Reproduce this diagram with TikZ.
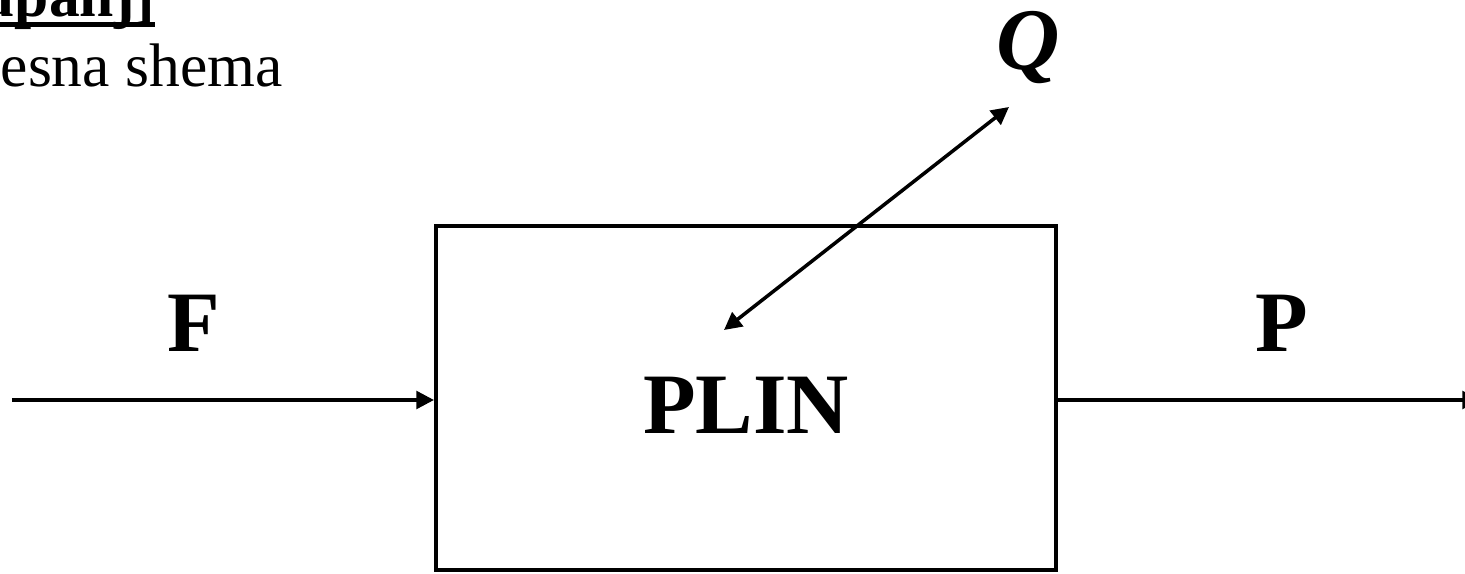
\documentclass[tikz,border=0pt]{standalone}
\usepackage{fontspec}
\setmainfont{Liberation Serif}
\usetikzlibrary{arrows.meta}

\newcommand{\thickul}[1]{\leavevmode\setbox0\hbox{#1}\rlap{\vrule height -1.4pt depth 2.8pt width \wd0}\box0}

\begin{document}
\begin{tikzpicture}[
    box/.style={
        rectangle,
        draw=black,
        line width=1.15pt,
        minimum width=6.2cm,
        minimum height=3.44cm,
        inner sep=0pt
    },
    streamlabel/.style={
        inner sep=0pt,
        font=\fontsize{24.5}{28}\selectfont\bfseries
    },
    headtext/.style={
        inner sep=0pt,
        anchor=base west,
        font=\fontsize{17.5}{21}\selectfont
    },
    arrow/.style={-{Triangle[length=5pt,width=5pt]}, line width=1pt},
    dblarrow/.style={{Triangle[length=5pt,width=5pt]}-{Triangle[length=5pt,width=5pt]}, line width=1pt}
]

\useasboundingbox (0,0) rectangle (14.65,5.74);

\node[headtext, font=\fontsize{17.5}{21}\selectfont\bfseries] (naslov) at (-0.2,5.57) {\thickul{upanj]}};
\node[headtext] (shema) at (0,4.87) {esna shema};

\node[box] (plin) at (7.46,1.76) {};
\node[streamlabel] (plinlbl) at (7.46,1.685) {PLIN};

\node[streamlabel] (flbl) at (1.94,2.505) {F};
\node[streamlabel] (plbl) at (12.82,2.505) {P};
\node[streamlabel, font=\fontsize{25}{29}\selectfont\bfseries\itshape, anchor=base] (qlbl) at (10.28,5.04) {Q};

\coordinate (fin) at (0.12,1.74);
\coordinate (pout) at (14.8,1.74);
\coordinate (qlow) at (7.24,2.44);
\coordinate (qhigh) at (10.09,4.67);

\draw[arrow] (fin) -- (fin -| plin.west);
\draw[arrow] (pout -| plin.east) -- (pout);
\draw[dblarrow] (qlow) -- (qhigh);

\end{tikzpicture}
\end{document}
